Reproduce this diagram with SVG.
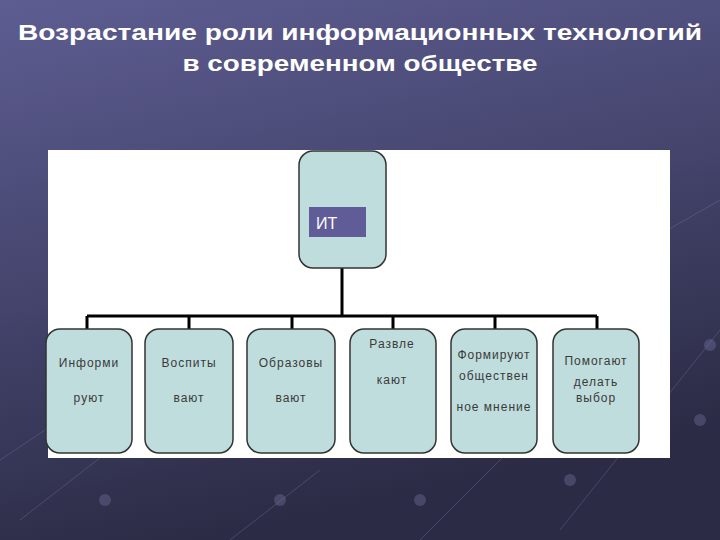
<svg xmlns="http://www.w3.org/2000/svg" width="720" height="540" viewBox="0 0 720 540">
<defs>
<linearGradient id="bg" x1="0" y1="0" x2="0.3" y2="1">
<stop offset="0" stop-color="#5e5d92"/>
<stop offset="0.5" stop-color="#45456e"/>
<stop offset="1" stop-color="#2b2b45"/>
</linearGradient>
<style>
.title{font-family:"Liberation Sans",Arial,sans-serif;font-weight:bold;font-size:22px;fill:#ffffff;text-anchor:middle}
.box{fill:#c0dddd;stroke:#333333;stroke-width:1.5}
.lbl{font-family:"Liberation Sans",Arial,sans-serif;font-size:12px;fill:#3a3a3a;text-anchor:middle;letter-spacing:1px}
.conn{stroke:#000000;stroke-width:3;fill:none}
.deco{stroke:#7a7aa8;stroke-width:1;opacity:0.35;fill:none}
.dot{fill:#7a7aa8;opacity:0.35}
</style>
</defs>
<rect x="0" y="0" width="720" height="540" fill="url(#bg)"/>
<g id="background-deco">
<path class="deco" d="M20 520 L200 380 M230 540 L320 470 M420 540 L520 440 M560 530 L720 330 M650 240 L720 200 M0 460 L60 420"/>
<circle class="dot" cx="105" cy="500" r="6"/>
<circle class="dot" cx="280" cy="500" r="6"/>
<circle class="dot" cx="420" cy="500" r="6"/>
<circle class="dot" cx="570" cy="480" r="6"/>
<circle class="dot" cx="700" cy="420" r="6"/>
<circle class="dot" cx="710" cy="345" r="6"/>
</g>
<g id="title">
<text class="title" x="360" y="40" textLength="684" lengthAdjust="spacingAndGlyphs">Возрастание роли информационных технологий</text>
<text class="title" x="360" y="71" textLength="355" lengthAdjust="spacingAndGlyphs">в современном обществе</text>
</g>
<rect id="panel" x="48" y="150" width="622" height="308" fill="#ffffff"/>
<g id="connectors">
<path class="conn" d="M342 268 V316 M87 316 H597 M87 316 V329 M189 316 V329 M292 316 V329 M393 316 V329 M495 316 V329 M597 316 V329"/>
</g>
<g id="node-it">
<rect class="box" x="299" y="151" width="87" height="117" rx="14"/>
<rect x="309" y="207" width="57" height="30" fill="#5f5c98"/>
<text x="316" y="229" font-family="'Liberation Sans',Arial,sans-serif" font-size="16" fill="#ffffff">ИТ</text>
</g>
<g id="node-1">
<rect class="box" x="46" y="329" width="86" height="124" rx="14"/>
<text class="lbl" x="89" y="367">Информи</text>
<text class="lbl" x="89" y="402">руют</text>
</g>
<g id="node-2">
<rect class="box" x="145" y="329" width="88" height="124" rx="14"/>
<text class="lbl" x="189" y="367">Воспиты</text>
<text class="lbl" x="189" y="402">вают</text>
</g>
<g id="node-3">
<rect class="box" x="247" y="329" width="88" height="124" rx="14"/>
<text class="lbl" x="291" y="367">Образовы</text>
<text class="lbl" x="291" y="402">вают</text>
</g>
<g id="node-4">
<rect class="box" x="350" y="329" width="86" height="124" rx="14"/>
<text class="lbl" x="392" y="348">Развле</text>
<text class="lbl" x="392" y="384">кают</text>
</g>
<g id="node-5">
<rect class="box" x="451" y="329" width="86" height="124" rx="14"/>
<text class="lbl" x="494" y="359" letter-spacing="0">Формируют</text>
<text class="lbl" x="494" y="380" letter-spacing="0.5">обществен</text>
<text class="lbl" x="494" y="411" letter-spacing="0.5">ное мнение</text>
</g>
<g id="node-6">
<rect class="box" x="553" y="329" width="86" height="124" rx="14"/>
<text class="lbl" x="596" y="365" letter-spacing="0">Помогают</text>
<text class="lbl" x="596" y="386" letter-spacing="0">делать</text>
<text class="lbl" x="596" y="402" letter-spacing="0">выбор</text>
</g>
</svg>
